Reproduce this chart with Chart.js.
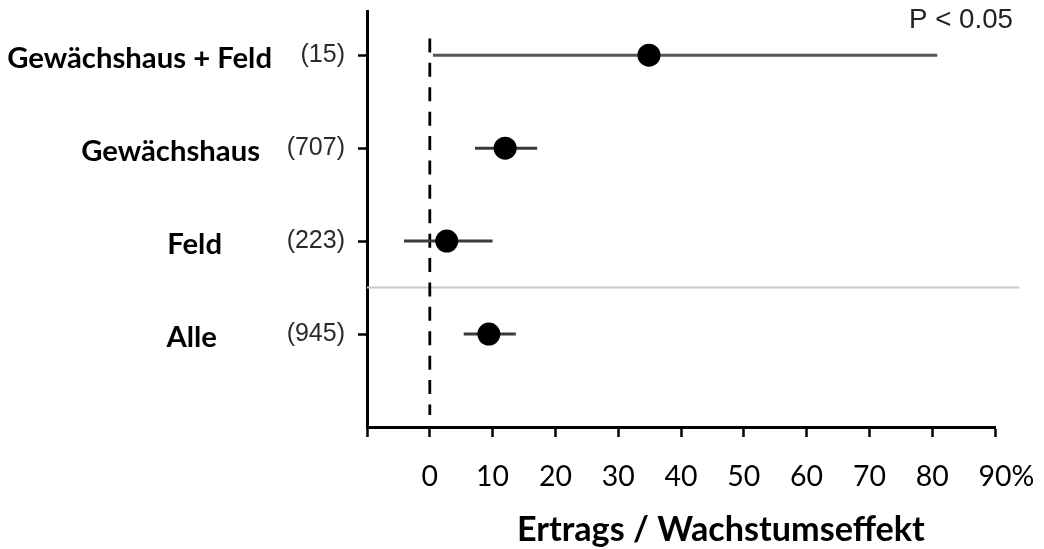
<!DOCTYPE html>
<html><head><meta charset="utf-8">
<script src="https://cdn.jsdelivr.net/npm/chart.js@4.4.1/dist/chart.umd.min.js"></script>
<style>html,body{margin:0;padding:0;background:#fff;}#wrap{width:1044px;height:549px;}</style>
</head><body><div id="wrap"><canvas id="c" width="1044" height="549"></canvas></div>
<script>
// ---- data ----
const categories = ['Gewächshaus + Feld', 'Gewächshaus', 'Feld', 'Alle'];
const counts = ['(15)', '(707)', '(223)', '(945)'];
const effect = [34.9, 12.0, 2.7, 9.4];
const ciLow = [0.5, 7.2, -4.1, 5.4];
const ciHigh = [80.8, 17.1, 10.0, 13.7];
const xMin = -10, xMax = 90, xStep = 10;
const pText = 'P < 0.05';
const xTitle = 'Ertrags / Wachstumseffekt';

// ---- styles / layout ----
const nameRight = [272, 260, 222, 217];
const mctx = document.createElement('canvas').getContext('2d');
function fitSize(text, weight, family, target) {
  mctx.font = weight + ' 100px ' + family;
  return 100 * target / mctx.measureText(text).width;
}
const nameSize = fitSize('Gewächshaus + Feld', 'bold', 'Lato', 265);
const titleSize = fitSize(xTitle, 'bold', 'Lato', 408);
const tickSize = fitSize('10', 'normal', 'Lato', 33);
const pSize = fitSize(pText, 'normal', '"Liberation Sans"', 104);
const countSize = 25;

const rowValue = i => categories.length - i;

const datasets = [];
datasets.push({
  label: 'effect',
  data: effect.map((v, i) => ({ x: v, y: rowValue(i) })),
  pointRadius: 11.5, pointBackgroundColor: '#000', pointBorderWidth: 0,
  showLine: false, order: 0
});
categories.forEach((c, i) => {
  datasets.push({
    label: 'ci ' + c,
    data: [{ x: ciLow[i], y: rowValue(i) }, { x: ciHigh[i], y: rowValue(i) }],
    showLine: true, borderColor: i === 0 ? '#555' : '#3a3a3a', borderWidth: 3, pointRadius: 0, order: 1
  });
});
// reference line at 0
datasets.push({
  label: 'zero',
  data: [{ x: 0, y: 4.18 }, { x: 0, y: 0.13 }],
  showLine: true, borderColor: '#000', borderWidth: 2.8, borderDash: [14, 10.4],
  pointRadius: 0, order: 2
});
// separator between groups and overall
datasets.push({
  label: 'sep',
  data: [{ x: xMin, y: 1.5 }, { x: 93.9, y: 1.5 }],
  showLine: true, borderColor: '#c8c8c8', borderWidth: 2,
  pointRadius: 0, order: 3, clip: false
});

const overlay = {
  id: 'overlay',
  afterDraw(chart) {
    const { ctx, scales: { x, y } } = chart;
    ctx.save();
    ctx.fillStyle = '#000';
    // category names
    ctx.font = 'bold ' + nameSize + 'px Lato';
    ctx.textAlign = 'right';
    ctx.textBaseline = 'alphabetic';
    categories.forEach((c, i) => {
      const py = y.getPixelForValue(rowValue(i));
      ctx.fillText(c, nameRight[i], py + 2 + 0.7165 * nameSize / 2);
    });
    // percent sign after last tick label
    const items = x.getLabelItems();
    const it = items.find(o => o.label === String(xMax));
    if (it) {
      ctx.font = it.font.string;
      const w = ctx.measureText(it.label).width;
      ctx.textAlign = 'left';
      ctx.textBaseline = it.options.textBaseline;
      ctx.fillText('%', it.options.translation[0] + w / 2, it.options.translation[1] + it.textOffset);
    }
    // axis title
    ctx.font = 'bold ' + titleSize + 'px Lato';
    ctx.textAlign = 'left';
    ctx.textBaseline = 'alphabetic';
    ctx.fillText(xTitle, 517, 517 + 0.7165 * titleSize);
    // P text
    ctx.font = pSize + 'px "Liberation Sans"';
    ctx.fillStyle = '#222';
    ctx.fillText(pText, 909, 28);
    ctx.restore();
  }
};

new Chart(document.getElementById('c'), {
  type: 'scatter',
  data: { datasets },
  plugins: [overlay],
  options: {
    responsive: false, animation: false,
    layout: { padding: { left: 0, right: 49, top: 10, bottom: 0 } },
    plugins: { legend: { display: false }, tooltip: { enabled: false } },
    scales: {
      x: {
        type: 'linear', min: xMin, max: xMax,
        afterFit(s) { s.height = 122; s.paddingLeft = 0; s.paddingRight = 0; },
        ticks: {
          stepSize: xStep, color: '#000', padding: 23,
          font: { family: 'Lato', size: tickSize },
          callback: v => (v === xMin ? '' : String(v)),
          maxRotation: 0, autoSkip: false
        },
        grid: { display: true, drawOnChartArea: false, drawTicks: true, tickLength: 10, tickWidth: 2.5, tickColor: '#000' },
        border: { display: true, color: '#000', width: 3 }
      },
      y: {
        type: 'linear', min: 0, max: 4.47,
        afterFit(s) { s.width = 367; s.paddingTop = 0; s.paddingBottom = 0; },
        afterBuildTicks(s) { s.ticks = categories.map((c, i) => ({ value: rowValue(i) })); },
        ticks: {
          color: '#2a2a2a', padding: 13,
          font: { family: '"Liberation Sans"', size: countSize },
          callback: v => counts[categories.length - v]
        },
        grid: { display: true, drawOnChartArea: false, drawTicks: true, tickLength: 9, tickWidth: 2.5, tickColor: '#000' },
        border: { display: true, color: '#000', width: 3 }
      }
    }
  }
});
</script>
</body></html>
